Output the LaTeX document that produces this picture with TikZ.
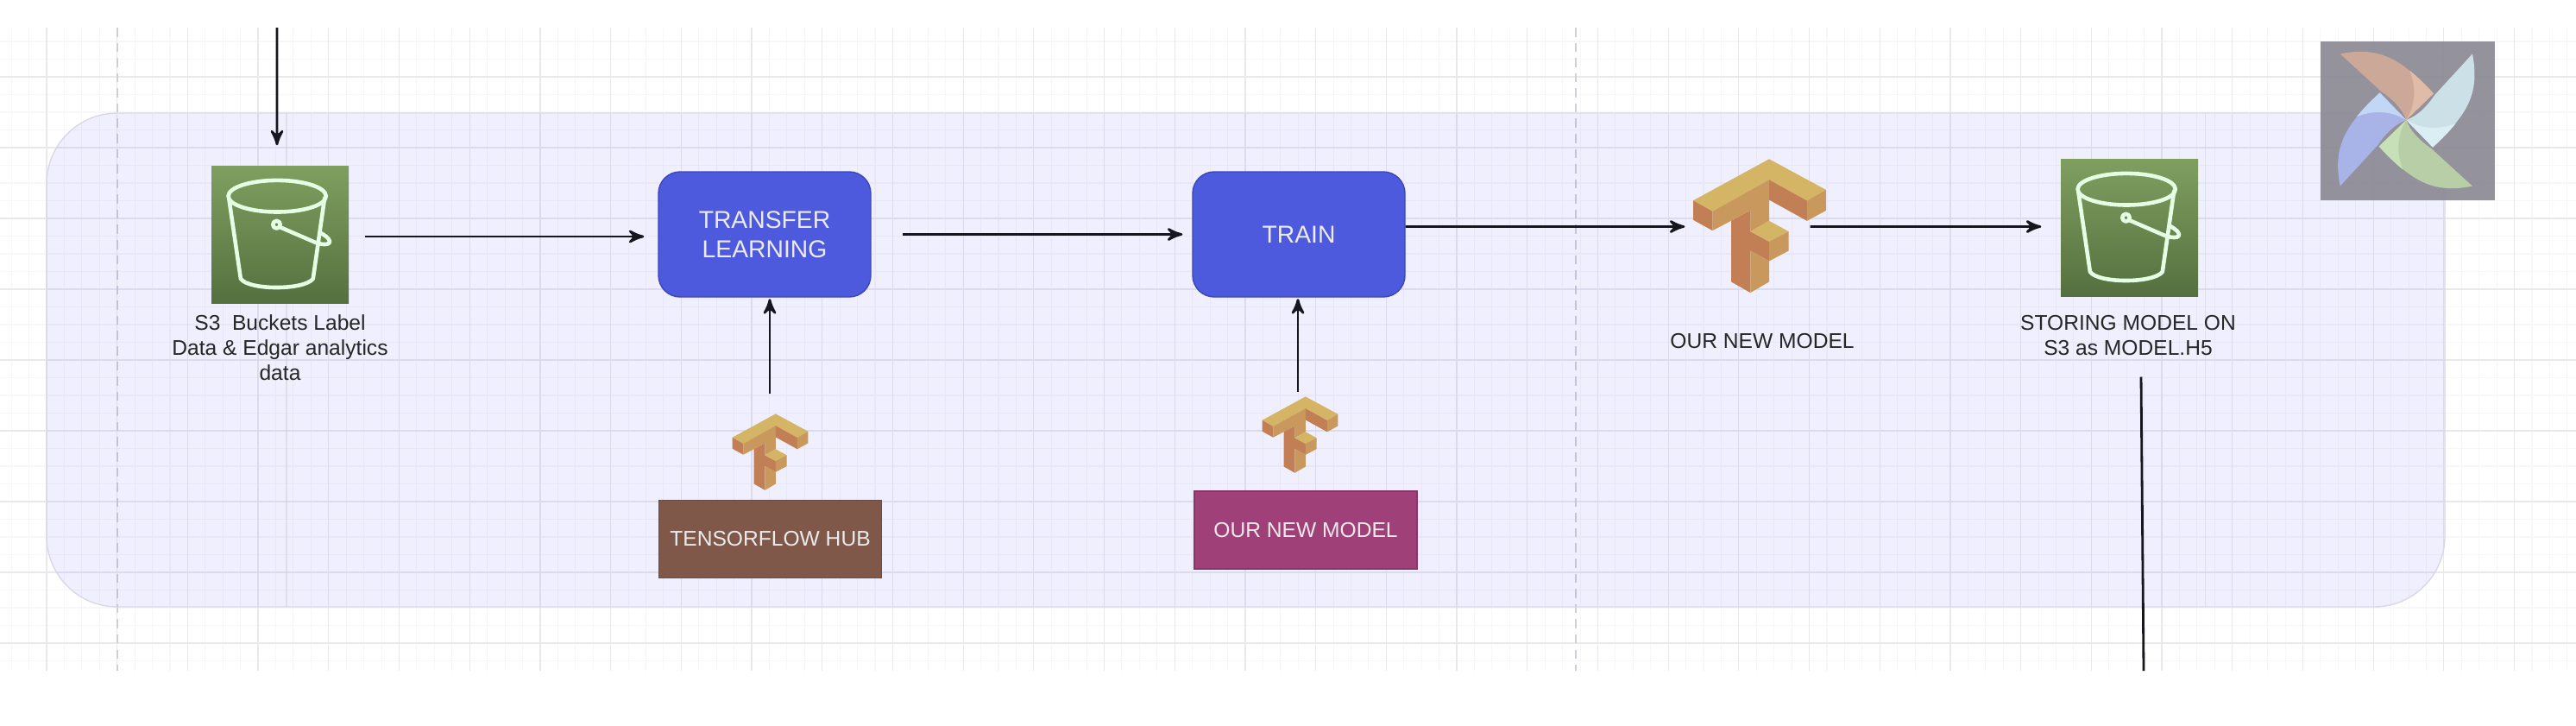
\documentclass[tikz,border=0pt]{standalone}
\usepackage{xcolor}
\usepackage{fontspec}
\setmainfont{Liberation Sans}
\usetikzlibrary{arrows}
\definecolor{minorline}{HTML}{F7F7F9}
\definecolor{majorline}{HTML}{E9E9ED}
\definecolor{pageline}{HTML}{CFCFD8}
\definecolor{panelfill}{HTML}{5A50F0}
\definecolor{panelline}{HTML}{DAD8E8}
\definecolor{blockfill}{HTML}{4E5ADE}
\definecolor{blockline}{HTML}{3C46B8}
\definecolor{hubfill}{HTML}{80584A}
\definecolor{modelfill}{HTML}{A04078}
\definecolor{bucketlight}{HTML}{7F9F60}
\definecolor{bucketdark}{HTML}{55703F}
\definecolor{tfyellow}{HTML}{D4B566}
\definecolor{tfdark}{HTML}{C27F55}
\definecolor{tflight}{HTML}{C9985C}
\definecolor{airgray}{HTML}{8C8A94}
\definecolor{arrowline}{HTML}{16161F}
\definecolor{bladered}{HTML}{CCA898}
\definecolor{bladeredb}{HTML}{E0BCA8}
\definecolor{bladecyan}{HTML}{CCE0E8}
\definecolor{bladecyanb}{HTML}{DAEEF4}
\definecolor{bladegreen}{HTML}{B8CEA6}
\definecolor{bladegreenb}{HTML}{C8E0B6}
\definecolor{bladeblue}{HTML}{A8B4E8}
\definecolor{bladeblueb}{HTML}{C2D6F6}
\tikzstyle{arrow} = [thick,->,>=stealth',draw=arrowline]
\tikzstyle{bucketbox} = [rectangle, minimum width=1.59cm, minimum height=1.59cm, inner sep=0pt, top color=bucketlight, bottom color=bucketdark]
\tikzstyle{blockbox} = [rectangle, rounded corners=.25cm, minimum width=2.46cm, minimum height=1.45cm, inner sep=0pt, fill=blockfill, draw=blockline, text=white!92!black, align=center, font=\fontsize{8.05}{9.8}\selectfont]
\tikzstyle{namebox} = [rectangle, minimum width=2.58cm, minimum height=.9cm, inner sep=0pt, text=white!92!black, font=\fontsize{7}{8.25}\selectfont]
\tikzstyle{textlabel} = [align=center, text=black!85, inner sep=0pt, font=\fontsize{7}{8.25}\selectfont]
\tikzset{
  tflogo/.pic={
    \fill [tfyellow] (.33,2.32) -- (2.31,1.25) -- (1.65,.87) -- (.33,1.6) -- (-1.64,.5) -- (-2.31,.88) -- cycle;
    \fill [tfdark] (-2.31,.88) -- (-1.64,.5) -- (-1.64,-.17) -- (-2.31,.2) -- cycle;
    \fill [tflight] (-1.64,.5) -- (.33,1.6) -- (.33,.17) -- (-.32,-.2) -- (-.32,.53) -- (-1.64,-.17) -- cycle;
    \fill [tfdark] (.33,1.6) -- (1.65,.87) -- (1.65,.17) -- (.33,.9) -- cycle;
    \fill [tflight] (1.65,.87) -- (2.31,1.25) -- (2.31,.53) -- (1.65,.17) -- cycle;
    \fill [tfdark] (-.99,.17) -- (-.32,.53) -- (-.32,-.2) -- (.33,-.55) -- (.33,-1.23) -- (-.32,-.87) -- (-.32,-2.33) -- (-.99,-1.95) -- cycle;
    \fill [tfyellow] (-.32,-.2) -- (.33,.17) -- (1.01,-.2) -- (.33,-.55) -- cycle;
    \fill [tflight] (.33,-.55) -- (1.01,-.2) -- (1.01,-.87) -- (.33,-1.23) -- cycle;
    \fill [tflight] (-.32,-.87) -- (.33,-1.23) -- (.33,-1.95) -- (-.32,-2.33) -- cycle;
  },
  bucketlogo/.pic={
    \draw [white!90!green, line width=1.3pt, line cap=round, line join=round]
      (-.1,1.33) ellipse (1.7 and .55)
      (-1.78,1.26) -- (-1.37,-1.54) .. controls (-1.1,-1.95) and (.85,-1.95) .. (1.15,-1.54) -- (1.55,1.26)
      (-.12,.34) circle (.13)
      (-.02,.26) -- (1.25,-.29) .. controls (1.75,-.45) and (1.95,-.25) .. (1.4,.06);
  }
}
\begin{document}
\begin{tikzpicture}[node distance=2cm]
\useasboundingbox (0,0) rectangle (29.85,-8.4);
\fill [white] (0,0) rectangle (29.85,-8.4);

\begin{scope}[shift={(.54,-.89)}]
\draw [minorline, line width=.3pt, xstep=.20425, ystep=.205] (-.54,.57) grid (29.31,-6.88);
\draw [majorline, line width=.35pt, xstep=.817, ystep=.82] (-.54,.57) grid (29.31,-6.88);
\end{scope}
\draw [pageline, densely dashed, line width=.35pt] (1.36,-.32) -- (1.36,-7.77);
\draw [pageline, densely dashed, line width=.35pt] (18.26,-.32) -- (18.26,-7.77);

\fill [panelfill, fill opacity=.09, rounded corners=.82cm] (.54,-1.31) rectangle (28.33,-7.03);
\draw [panelline, rounded corners=.82cm] (.54,-1.31) rectangle (28.33,-7.03);
\draw [pageline, line width=.3pt, opacity=.5] (3.32,-1.31) -- (3.32,-7.03);
\draw [pageline, line width=.3pt, opacity=.5] (25.55,-1.31) -- (25.55,-7.03);

\node (bucketa) [bucketbox] at (3.245,-2.715) {};
\node (labela) [textlabel, below of=bucketa, yshift=.685cm] {S3~ Buckets Label\\Data \& Edgar analytics\\data};
\node (transfer) [blockbox, right of=bucketa, xshift=3.615cm] {TRANSFER\\LEARNING};
\node (train) [blockbox, right of=transfer, xshift=4.19cm] {TRAIN};
\node (tfbig) [minimum width=1.54cm, minimum height=1.55cm, inner sep=0pt, right of=train, xshift=3.34cm, yshift=.1cm] {};
\node (labelc) [textlabel, below of=tfbig, xshift=.03cm, yshift=.665cm] {OUR NEW MODEL};
\node (bucketb) [bucketbox, right of=tfbig, xshift=2.285cm, yshift=-.02cm] {};
\node (labelb) [textlabel, below of=bucketb, xshift=-.015cm, yshift=.75cm] {STORING MODEL ON\\S3 as MODEL.H5};
\node (tfa) [minimum width=.87cm, minimum height=.91cm, inner sep=0pt, below of=transfer, xshift=.065cm, yshift=-.52cm] {};
\node (hub) [namebox, fill=hubfill, draw=hubfill!85!black, below of=tfa, yshift=.99cm] {TENSORFLOW HUB};
\node (tfb) [minimum width=.85cm, minimum height=.92cm, inner sep=0pt, below of=train, xshift=.015cm, yshift=-.32cm] {};
\node (newmodel) [namebox, fill=modelfill, draw=modelfill!85!black, below of=tfb, xshift=.065cm, yshift=.895cm] {OUR NEW MODEL};
\node (airflow) [rectangle, minimum width=2.02cm, minimum height=1.84cm, inner sep=0pt, fill=airgray, fill opacity=.93] at (27.9,-1.4) {};

\pic at (bucketa.center) [scale=.333] {bucketlogo};
\pic at (bucketb.center) [scale=.333] {bucketlogo};
\pic at (tfbig.center) [scale=.333] {tflogo};
\pic at (tfa.center) [scale=.19] {tflogo};
\pic at (tfb.center) [scale=.19] {tflogo};

\foreach \ang/\main/\lite in {0/bladered/bladeredb, -90/bladecyan/bladecyanb, -180/bladegreen/bladegreenb, -270/bladeblue/bladeblueb} {
\begin{scope}[shift={(27.883,-1.39)}, scale=.333, rotate=\ang]
\fill [\main] (-2.3,2.3) -- (-.87,.99) .. controls (-.45,.7) and (-.15,.4) .. (0,0) -- (.95,.92) .. controls (-.1,2) and (-.8,2.6) .. cycle;
\fill [\lite] (.12,1.72) .. controls (.4,1) and (.25,.4) .. (0,0) -- (.95,.92) .. controls (.7,1.2) and (.4,1.5) .. cycle;
\end{scope}
}

\coordinate (intop) at (3.21,-.32);
\coordinate (outtop) at (24.81,-4.365);
\coordinate (outend) at (24.84,-7.77);

\draw [arrow] (intop) -- ([shift={(-.035,.23)}]bucketa.north);
\draw [arrow] ([shift={(.18,-.025)}]bucketa.east) -- ([shift={(-.16,-.025)}]transfer.west);
\draw [arrow] ([xshift=.36cm]transfer.east) -- ([xshift=-.11cm]train.west);
\draw [arrow] ([yshift=.09cm]train.east) -- ([shift={(-.09,-.01)}]tfbig.west);
\draw [arrow] ([shift={(-.19,-.01)}]tfbig.east) -- ([shift={(-.22,.01)}]bucketb.west);
\draw [arrow] ([shift={(-.005,.21)}]tfa.north) -- ([shift={(.06,-.015)}]transfer.south);
\draw [arrow] ([shift={(-.025,.03)}]tfb.north) -- ([shift={(-.01,-.015)}]train.south);
\draw [arrowline, thick] (outtop) -- (outend);
\end{tikzpicture}
\end{document}
